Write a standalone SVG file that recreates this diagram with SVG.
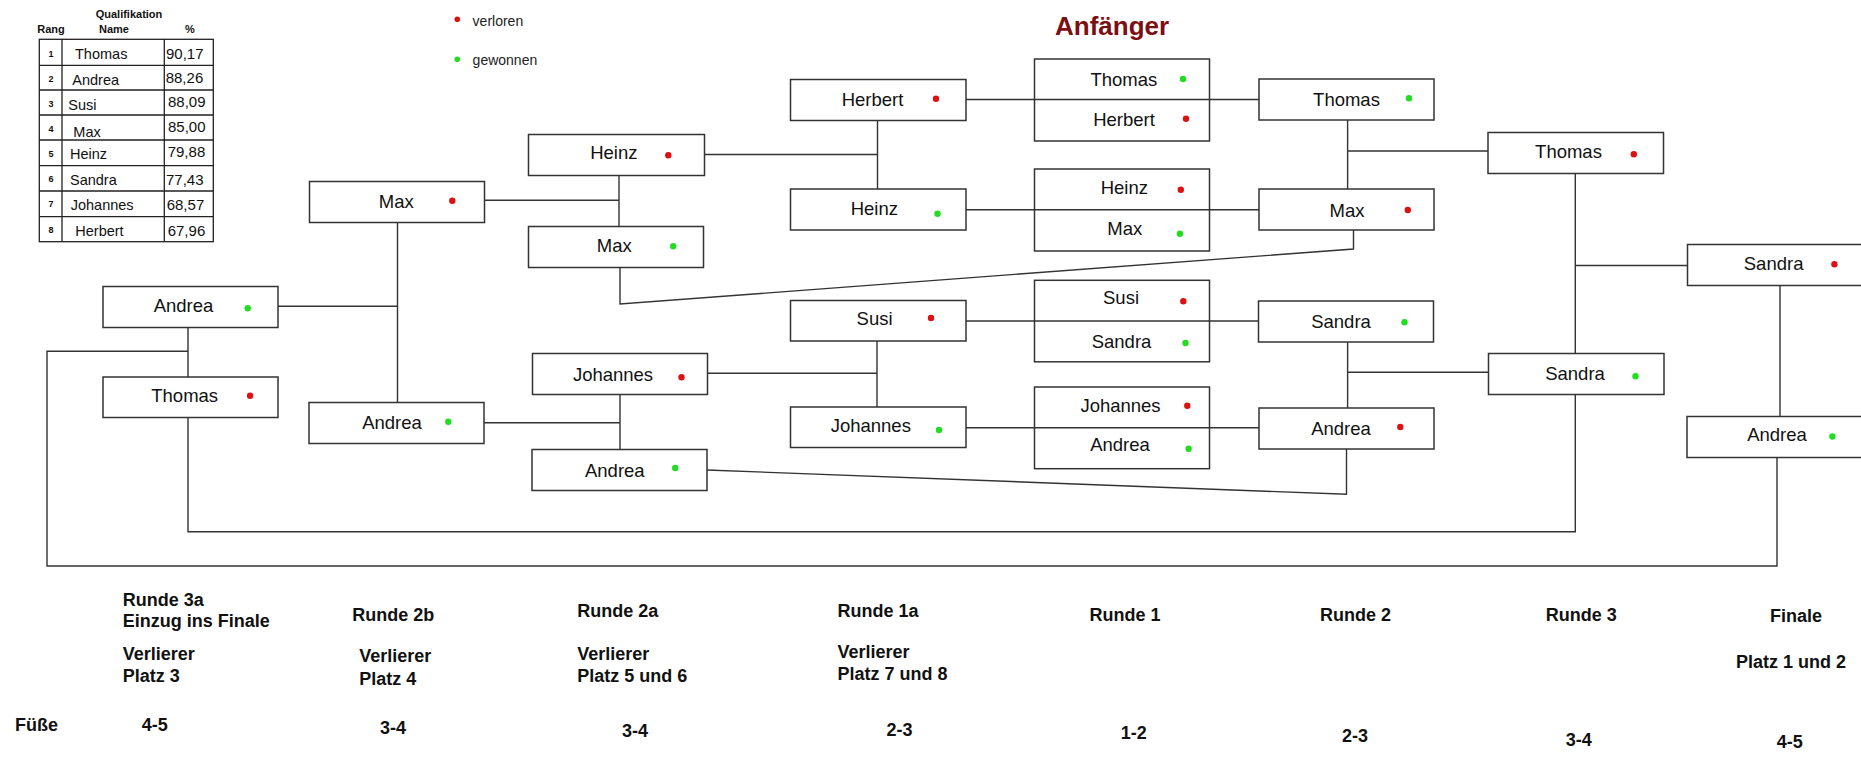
<svg xmlns="http://www.w3.org/2000/svg" width="1861" height="757" viewBox="0 0 1861 757">
<style>
  .bg{fill:#fff}
  .box{fill:#fff;stroke:#333;stroke-width:1.5}
  .div{stroke:#333;stroke-width:1.4}
  .conn{fill:none;stroke:#333;stroke-width:1.4}
  .t{font-family:"Liberation Sans",Arial,sans-serif;font-size:18.5px;fill:#111;text-anchor:middle}
  .r{fill:#dd1111}
  .g{fill:#22dd22}
  .tbl{fill:none;stroke:#222;stroke-width:1.3}
  .tn{font-family:"Liberation Sans",Arial,sans-serif;font-size:14.5px;fill:#111}
  .tv{font-family:"Liberation Sans",Arial,sans-serif;font-size:15px;fill:#111}
  .tr{font-family:"Liberation Sans",Arial,sans-serif;font-size:9px;font-weight:bold;fill:#111;text-anchor:middle}
  .th{font-family:"Liberation Sans",Arial,sans-serif;font-size:11px;font-weight:bold;fill:#111}
  .leg{font-family:"Liberation Sans",Arial,sans-serif;font-size:14px;fill:#222}
  .title{font-family:"Liberation Sans",Arial,sans-serif;font-size:26px;font-weight:bold;fill:#7b0f12}
  .lbl{font-family:"Liberation Sans",Arial,sans-serif;font-size:18px;font-weight:bold;fill:#111}
</style>
<rect class="bg" x="0" y="0" width="1861" height="757"/>

<!-- Qualification table -->
<g id="table">
  <text class="th" x="95.7" y="18.3">Qualifikation</text>
  <text class="th" x="37.3" y="33">Rang</text>
  <text class="th" x="99" y="33">Name</text>
  <text class="th" x="185" y="33">%</text>
  <rect class="tbl" x="39.3" y="39.3" width="174" height="202.4"/>
  <path class="tbl" d="M62 39.3V241.7M164.3 39.3V241.7M39.3 65.3H213.3M39.3 90H213.3M39.3 115H213.3M39.3 140H213.3M39.3 165.7H213.3M39.3 191H213.3M39.3 216.7H213.3"/>
  <text class="tr" x="51" y="56.7">1</text>
  <text class="tr" x="51" y="81.7">2</text>
  <text class="tr" x="51" y="106.7">3</text>
  <text class="tr" x="51" y="131.7">4</text>
  <text class="tr" x="51" y="156.7">5</text>
  <text class="tr" x="51" y="181.7">6</text>
  <text class="tr" x="51" y="206.7">7</text>
  <text class="tr" x="51" y="233.3">8</text>
  <text class="tn" x="75" y="59.3">Thomas</text>
  <text class="tn" x="72.3" y="85">Andrea</text>
  <text class="tn" x="68.3" y="110">Susi</text>
  <text class="tn" x="73.3" y="136.7">Max</text>
  <text class="tn" x="70" y="159.3">Heinz</text>
  <text class="tn" x="70" y="185">Sandra</text>
  <text class="tn" x="70.7" y="210">Johannes</text>
  <text class="tn" x="75.3" y="236">Herbert</text>
  <text class="tv" x="166" y="59.3">90,17</text>
  <text class="tv" x="165.7" y="83.3">88,26</text>
  <text class="tv" x="168" y="107.3">88,09</text>
  <text class="tv" x="168" y="131.7">85,00</text>
  <text class="tv" x="167.7" y="156.7">79,88</text>
  <text class="tv" x="166" y="185">77,43</text>
  <text class="tv" x="166.7" y="210">68,57</text>
  <text class="tv" x="167.7" y="236">67,96</text>
</g>

<!-- Legend -->
<g id="legend">
  <circle class="r" cx="457.3" cy="19.3" r="2.8"/>
  <text class="leg" x="472.6" y="26">verloren</text>
  <circle class="g" cx="457.3" cy="59.3" r="2.8"/>
  <text class="leg" x="472.6" y="65">gewonnen</text>
</g>

<text class="title" x="1055" y="35">Anfänger</text>

<!-- Connectors -->
<g id="connectors">
  <path class="conn" d="M966 99.5H1259"/>
  <path class="conn" d="M966 209.7H1259"/>
  <path class="conn" d="M966 321H1258.5"/>
  <path class="conn" d="M966 427.7H1259"/>
  <path class="conn" d="M877.5 120.5V189M704.5 154.5H877.5"/>
  <path class="conn" d="M877 341V407M707.5 373.3H877"/>
  <path class="conn" d="M619 175.5V226.5M484.5 200.3H619"/>
  <path class="conn" d="M620 394.5V449.5M484 422.7H620"/>
  <path class="conn" d="M620 267.5V304L1353.5 249V230"/>
  <path class="conn" d="M707 470L1346.5 494.3V449"/>
  <path class="conn" d="M397.5 222.5V402.5M278 306.3H397.5"/>
  <path class="conn" d="M188 327.5V377M188 351.3H47V566H1777V457.5"/>
  <path class="conn" d="M188 417.5V531.7H1575.3V394.5"/>
  <path class="conn" d="M1347.6 120V189M1347.6 151H1488"/>
  <path class="conn" d="M1347.6 342V408M1347.6 372.3H1488.5"/>
  <path class="conn" d="M1575.3 173.5V353.5M1575.3 265.5H1687.5"/>
  <path class="conn" d="M1780 285.5V416.5"/>
</g>

<!-- Runde 3a -->
<g id="andrea-r3a"><rect class="box" x="103" y="286.5" width="175" height="41"/><text class="t" x="183.5" y="311.7">Andrea</text><circle class="g" cx="247.7" cy="308.3" r="3.2"/></g>
<g id="thomas-r3a"><rect class="box" x="103" y="377" width="175" height="40.5"/><text class="t" x="184.7" y="401.7">Thomas</text><circle class="r" cx="250.1" cy="395.7" r="3.2"/></g>

<!-- Runde 2b -->
<g id="max-r2b"><rect class="box" x="309.5" y="181.5" width="175" height="41"/><text class="t" x="396.3" y="208">Max</text><circle class="r" cx="452.3" cy="200.7" r="3.2"/></g>
<g id="andrea-r2b"><rect class="box" x="309" y="402.5" width="175" height="41"/><text class="t" x="392" y="429">Andrea</text><circle class="g" cx="448.3" cy="421.7" r="3.2"/></g>

<!-- Runde 2a -->
<g id="heinz-r2a"><rect class="box" x="528.5" y="134.5" width="176" height="41"/><text class="t" x="613.8" y="159.3">Heinz</text><circle class="r" cx="668.3" cy="155.3" r="3.2"/></g>
<g id="max-r2a"><rect class="box" x="528.5" y="226.5" width="175" height="41"/><text class="t" x="614.3" y="251.7">Max</text><circle class="g" cx="673.2" cy="246.3" r="3.2"/></g>
<g id="johannes-r2a"><rect class="box" x="532.5" y="353.5" width="175" height="41"/><text class="t" x="613" y="380.7">Johannes</text><circle class="r" cx="681.5" cy="377.3" r="3.2"/></g>
<g id="andrea-r2a"><rect class="box" x="532" y="449.5" width="175" height="41"/><text class="t" x="614.8" y="477.3">Andrea</text><circle class="g" cx="675.2" cy="468" r="3.2"/></g>

<!-- Runde 1a -->
<g id="herbert-r1a"><rect class="box" x="790.5" y="79.5" width="175.5" height="41"/><text class="t" x="872.5" y="106">Herbert</text><circle class="r" cx="936" cy="98.7" r="3.2"/></g>
<g id="heinz-r1a"><rect class="box" x="790.5" y="189" width="175.5" height="41"/><text class="t" x="874.3" y="215">Heinz</text><circle class="g" cx="937.5" cy="213.7" r="3.2"/></g>
<g id="susi-r1a"><rect class="box" x="790.5" y="300.5" width="175.5" height="40.5"/><text class="t" x="874.6" y="325">Susi</text><circle class="r" cx="931" cy="318" r="3.2"/></g>
<g id="johannes-r1a"><rect class="box" x="790.5" y="407" width="175.5" height="40.5"/><text class="t" x="870.8" y="432.3">Johannes</text><circle class="g" cx="939" cy="430" r="3.2"/></g>

<!-- Runde 1 -->
<g id="r1-thomas-herbert"><rect class="box" x="1034.5" y="59" width="175" height="82"/><path class="div" d="M1034.5 99.5H1209.5"/>
  <text class="t" x="1123.8" y="86">Thomas</text><circle class="g" cx="1183" cy="79" r="3.2"/>
  <text class="t" x="1124" y="125.7">Herbert</text><circle class="r" cx="1186" cy="118.7" r="3.2"/></g>
<g id="r1-heinz-max"><rect class="box" x="1034.5" y="169" width="175" height="82"/><path class="div" d="M1034.5 209.7H1209.5"/>
  <text class="t" x="1124.3" y="194.3">Heinz</text><circle class="r" cx="1180.8" cy="189.7" r="3.2"/>
  <text class="t" x="1124.8" y="235.3">Max</text><circle class="g" cx="1179.9" cy="233.7" r="3.2"/></g>
<g id="r1-susi-sandra"><rect class="box" x="1034.5" y="280.3" width="175" height="81.5"/><path class="div" d="M1034.5 321H1209.5"/>
  <text class="t" x="1121" y="304.3">Susi</text><circle class="r" cx="1183.3" cy="301.3" r="3.2"/>
  <text class="t" x="1121.5" y="347.7">Sandra</text><circle class="g" cx="1185.5" cy="343" r="3.2"/></g>
<g id="r1-johannes-andrea"><rect class="box" x="1034.5" y="387" width="175" height="81.7"/><path class="div" d="M1034.5 427.7H1209.5"/>
  <text class="t" x="1120.5" y="411.7">Johannes</text><circle class="r" cx="1187.3" cy="405.7" r="3.2"/>
  <text class="t" x="1120" y="451">Andrea</text><circle class="g" cx="1188.6" cy="448.7" r="3.2"/></g>

<!-- Runde 2 -->
<g id="thomas-r2"><rect class="box" x="1259" y="79" width="175" height="41"/><text class="t" x="1346.5" y="106">Thomas</text><circle class="g" cx="1409" cy="98.3" r="3.2"/></g>
<g id="max-r2"><rect class="box" x="1259" y="189" width="175" height="41"/><text class="t" x="1347" y="216.7">Max</text><circle class="r" cx="1407.8" cy="210" r="3.2"/></g>
<g id="sandra-r2"><rect class="box" x="1258.5" y="301" width="175" height="41"/><text class="t" x="1341" y="327.7">Sandra</text><circle class="g" cx="1404.5" cy="322.3" r="3.2"/></g>
<g id="andrea-r2"><rect class="box" x="1259" y="408" width="175" height="41"/><text class="t" x="1341" y="435">Andrea</text><circle class="r" cx="1400.3" cy="427" r="3.2"/></g>

<!-- Runde 3 -->
<g id="thomas-r3"><rect class="box" x="1488" y="132.5" width="175.5" height="41"/><text class="t" x="1568.5" y="158.3">Thomas</text><circle class="r" cx="1633.8" cy="154.3" r="3.2"/></g>
<g id="sandra-r3"><rect class="box" x="1488.5" y="353.5" width="175.5" height="41"/><text class="t" x="1575" y="380">Sandra</text><circle class="g" cx="1635.5" cy="376.3" r="3.2"/></g>

<!-- Finale -->
<g id="sandra-finale"><rect class="box" x="1687.5" y="244.5" width="180" height="41"/><text class="t" x="1773.6" y="270">Sandra</text><circle class="r" cx="1834.4" cy="264.3" r="3.2"/></g>
<g id="andrea-finale"><rect class="box" x="1687" y="416.5" width="180" height="41"/><text class="t" x="1777" y="441">Andrea</text><circle class="g" cx="1832.4" cy="436.5" r="3.2"/></g>

<!-- Bottom labels -->
<g id="labels">
  <text class="lbl" x="122.7" y="605.7">Runde 3a</text>
  <text class="lbl" x="122.7" y="626.7">Einzug ins Finale</text>
  <text class="lbl" x="122.7" y="660">Verlierer</text>
  <text class="lbl" x="122.7" y="681.7">Platz 3</text>
  <text class="lbl" x="352.3" y="620.7">Runde 2b</text>
  <text class="lbl" x="359.3" y="661.7">Verlierer</text>
  <text class="lbl" x="359.3" y="685">Platz 4</text>
  <text class="lbl" x="577.2" y="617">Runde 2a</text>
  <text class="lbl" x="577.2" y="660">Verlierer</text>
  <text class="lbl" x="577.2" y="681.7">Platz 5 und 6</text>
  <text class="lbl" x="837.4" y="616.7">Runde 1a</text>
  <text class="lbl" x="837.4" y="657.7">Verlierer</text>
  <text class="lbl" x="837.4" y="680">Platz 7 und 8</text>
  <text class="lbl" x="1089.5" y="620.7">Runde 1</text>
  <text class="lbl" x="1320" y="620.7">Runde 2</text>
  <text class="lbl" x="1545.7" y="621">Runde 3</text>
  <text class="lbl" x="1770" y="622.3">Finale</text>
  <text class="lbl" x="1736" y="668.3">Platz 1 und 2</text>
  <text class="lbl" x="15" y="730.7">Füße</text>
  <text class="lbl" x="141.7" y="730.5">4-5</text>
  <text class="lbl" x="380" y="733.7">3-4</text>
  <text class="lbl" x="621.9" y="736.7">3-4</text>
  <text class="lbl" x="886.5" y="735.7">2-3</text>
  <text class="lbl" x="1120.8" y="739.3">1-2</text>
  <text class="lbl" x="1342" y="742">2-3</text>
  <text class="lbl" x="1565.7" y="746">3-4</text>
  <text class="lbl" x="1776.7" y="748.3">4-5</text>
</g>
</svg>
